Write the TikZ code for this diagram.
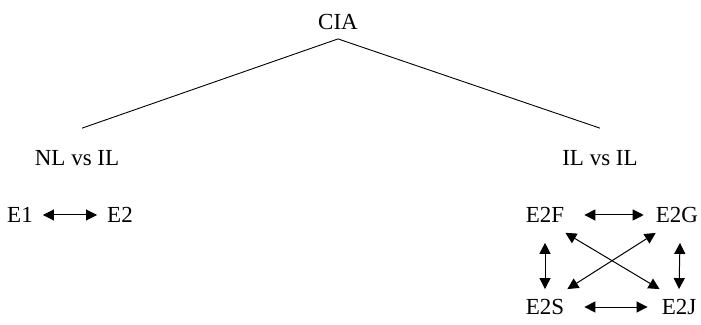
\documentclass[tikz,border=0pt]{standalone}
\usepackage{fontspec}
\setmainfont{Liberation Serif}
\usetikzlibrary{shapes}
\usetikzlibrary{positioning}
\usetikzlibrary{arrows.meta}

\begin{document}
\begin{tikzpicture}[x=1pt,y=1pt]
		\tikzstyle{every node}+=[inner sep=0pt, font=\fontsize{23}{27}\selectfont]
		\tikzstyle{link}=[{Triangle[length=11pt,width=11pt]}-{Triangle[length=11pt,width=11pt]}, line width=1pt]
		\useasboundingbox (0,0) rectangle (701,324);
		\node (cia) at (338,302) {CIA};
		\node (nl) at (77,166) {NL vs IL};
		\node (il) at (600,166) {IL vs IL};
		\node (e1) at (20,109) {E1};
		\node (e2) at (120,109) {E2};
		\node (e2f) at (545,109) {E2F};
		\node (e2g) at (677,109) {E2G};
		\node (e2s) at (545,17) {E2S};
		\node (e2j) at (679,17) {E2J};
		\draw [black, line width=0.9pt] ([xshift=5pt,yshift=22pt]nl.north) -- ([yshift=-9pt]cia.south) -- ([yshift=22pt]il.north);
		\draw [link] ([xshift=10pt]e1.east) -- ([xshift=-10pt]e2.west);
		\draw [link] ([xshift=20pt]e2f.east) -- ([xshift=-12pt]e2g.west);
		\draw [link] ([xshift=20pt]e2s.east) -- ([xshift=-14pt]e2j.west);
		\draw [link] ([yshift=-20pt]e2f.south) -- ([yshift=10pt]e2s.north);
		\draw [link] ([xshift=3pt,yshift=-20pt]e2g.south) -- ([yshift=10pt]e2j.north);
		\draw [link] ([shift={(1pt,-10pt)}]e2f.south east) -- ([shift={(-2pt,10pt)}]e2j.north west);
		\draw [link] ([shift={(0pt,-10pt)}]e2g.south west) -- ([shift={(3pt,10pt)}]e2s.north east);
\end{tikzpicture}
\end{document}
